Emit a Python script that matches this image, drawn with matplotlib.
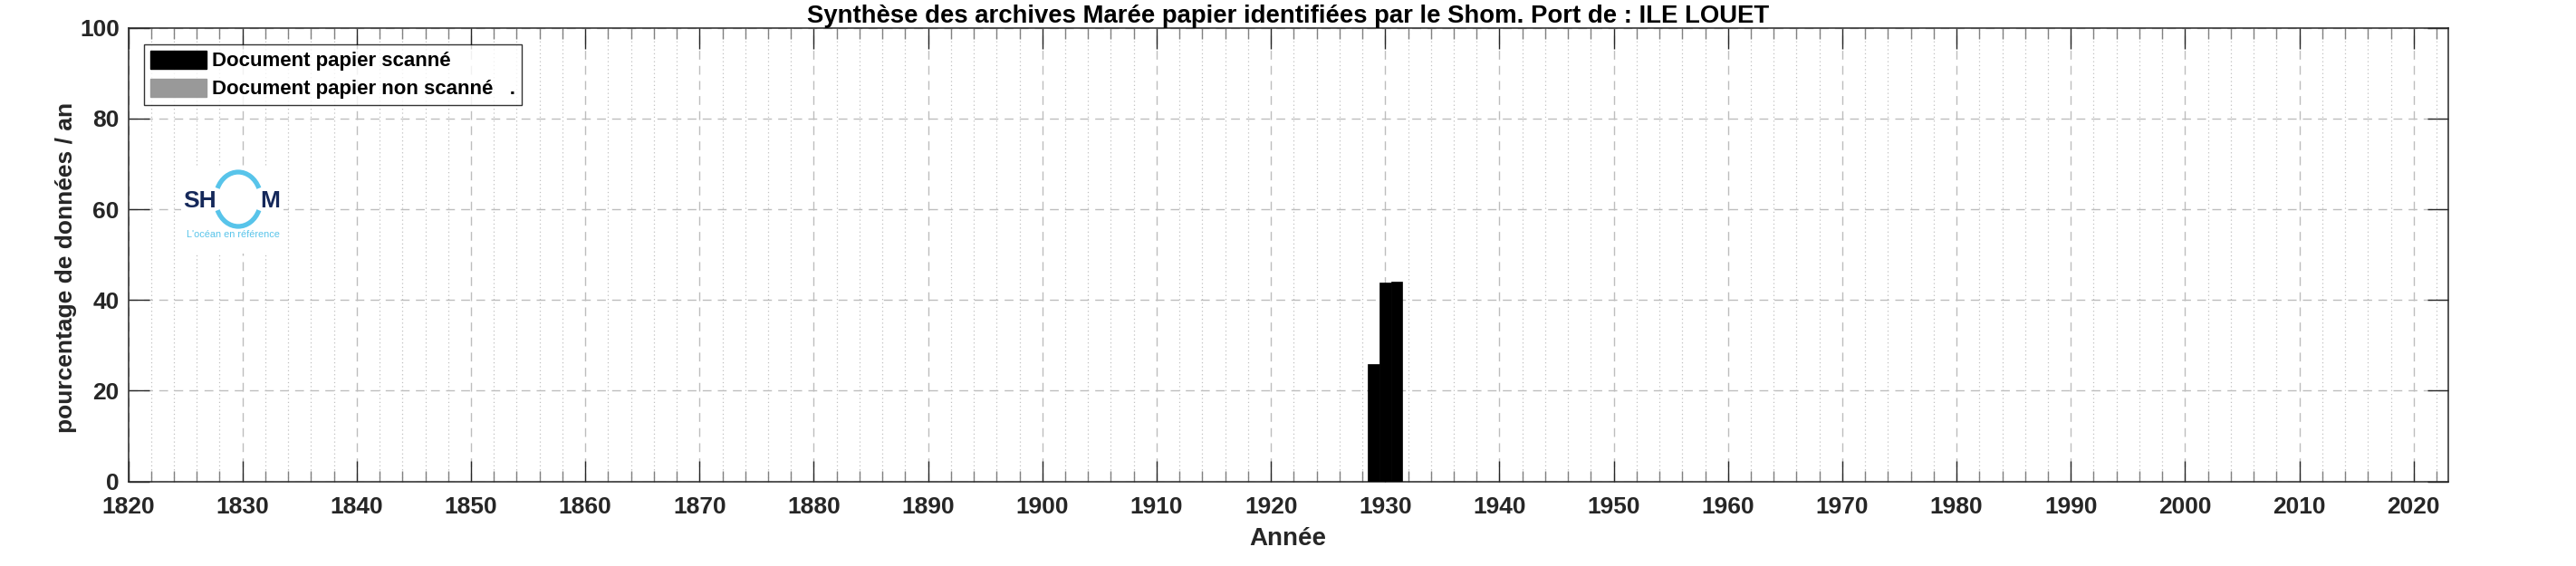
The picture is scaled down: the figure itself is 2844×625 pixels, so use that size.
import matplotlib
matplotlib.use("Agg")
import matplotlib.pyplot as plt
from matplotlib.patches import Patch, Arc
from matplotlib.ticker import MultipleLocator

# ---- data ----
years = [1929, 1930, 1931]
scanned = [25.9, 43.8, 44.1]
non_scanned = [0.0, 0.0, 0.0]
title = "Synthèse des archives Marée papier identifiées par le Shom. Port de : ILE LOUET"
xlabel = "Année"
ylabel = "pourcentage de données / an"
legend_labels = ["Document papier scanné", "Document papier non scanné   ."]
xticks = list(range(1820, 2021, 10))
yticks = [0, 20, 40, 60, 80, 100]

W, H = 2844, 625
plt.rcParams['font.family'] = ['Liberation Sans', 'DejaVu Sans']
fig = plt.figure(figsize=(W / 100, H / 100), dpi=100)
fig.patch.set_facecolor('white')

L, R, T, B = 141.5, 2702.6, 30.8, 531.5
ax = fig.add_axes([L / W, 1 - B / H, (R - L) / W, (B - T) / H])

axc = '#262626'
ax.bar(years, scanned, width=1.0, color='black', edgecolor='black', linewidth=0.5, zorder=3)
ax.bar(years, non_scanned, bottom=scanned, width=1.0, color='#999999', linewidth=0, zorder=3)

ax.set_xlim(1820, 2023)
ax.set_ylim(0, 100)
ax.set_xticks(xticks)
ax.set_xticklabels([str(v) for v in xticks], fontweight='bold')
ax.set_yticks(yticks)
ax.set_yticklabels([str(v) for v in yticks], fontweight='bold')
ax.xaxis.set_minor_locator(MultipleLocator(2))

ax.grid(True, which='major', axis='both', color='#bdbdbd', linestyle=(0, (7, 5)), linewidth=1.0, zorder=0)
ax.grid(True, which='minor', axis='x', color='#c0c0c0', linestyle=(0, (1, 2.5)), linewidth=0.9, zorder=0)
ax.set_axisbelow(True)

for s in ax.spines.values():
    s.set_color(axc)
    s.set_linewidth(1.1)

ax.tick_params(which='major', direction='in', length=16.5, width=1.0, color=axc,
               top=True, right=True, labelsize=19, labelcolor=axc)
ax.tick_params(which='minor', direction='in', length=8.6, width=1.0, color='#808080',
               top=True, right=True)
ax.tick_params(axis='x', which='major', pad=12)
ax.tick_params(axis='y', which='major', pad=7)

ax.set_xlabel(xlabel, fontsize=20, fontweight='bold', color=axc, labelpad=7)
fig.text(73 / W, 1 - 295 / H, ylabel, rotation=90, ha='center', va='center',
         fontsize=19, fontweight='bold', color=axc)
ax.set_title(title, fontsize=19.8, fontweight='bold', color='black', pad=4)

handles = [Patch(facecolor='black', edgecolor='black'),
           Patch(facecolor='#999999', edgecolor='#999999')]
leg = ax.legend(handles, legend_labels, loc='upper left',
                bbox_to_anchor=(159 / W, 1 - 49 / H), bbox_transform=fig.transFigure,
                borderaxespad=0, frameon=True, fancybox=False,
                handlelength=2.8, handleheight=1.0, handletextpad=0.28,
                labelspacing=0.38, borderpad=0.3, prop={'weight': 'bold', 'size': 16})
leg.get_frame().set_edgecolor('black')
leg.get_frame().set_linewidth(1.0)

# ---- SHOM logo (decorative) ----
def fx(px):
    return px / W

def fy(py):
    return 1 - py / H

lax = fig.add_axes([fx(200), fy(280), (313 - 200) / W, (280 - 183) / H], zorder=5)
lax.set_xlim(200, 313)
lax.set_ylim(280, 183)
lax.set_xticks([])
lax.set_yticks([])
for s in lax.spines.values():
    s.set_visible(False)
lax.set_facecolor('white')
blue = '#58c4ea'
navy = '#15285a'
lax.add_patch(Arc((263, 220), 50, 60, theta1=28, theta2=152, color=blue, lw=3.8))
lax.add_patch(Arc((263, 220), 50, 60, theta1=208, theta2=332, color=blue, lw=3.8))
lax.text(221, 222, "SH", ha='center', va='center', fontsize=19, fontweight='bold', color=navy)
lax.text(298, 222, "M", ha='center', va='center', fontsize=19, fontweight='bold', color=navy)
lax.text(257, 259, "L'océan en référence", ha='center', va='center', fontsize=7.8, color=blue)

fig.savefig('out.png', dpi=100, facecolor='white')
